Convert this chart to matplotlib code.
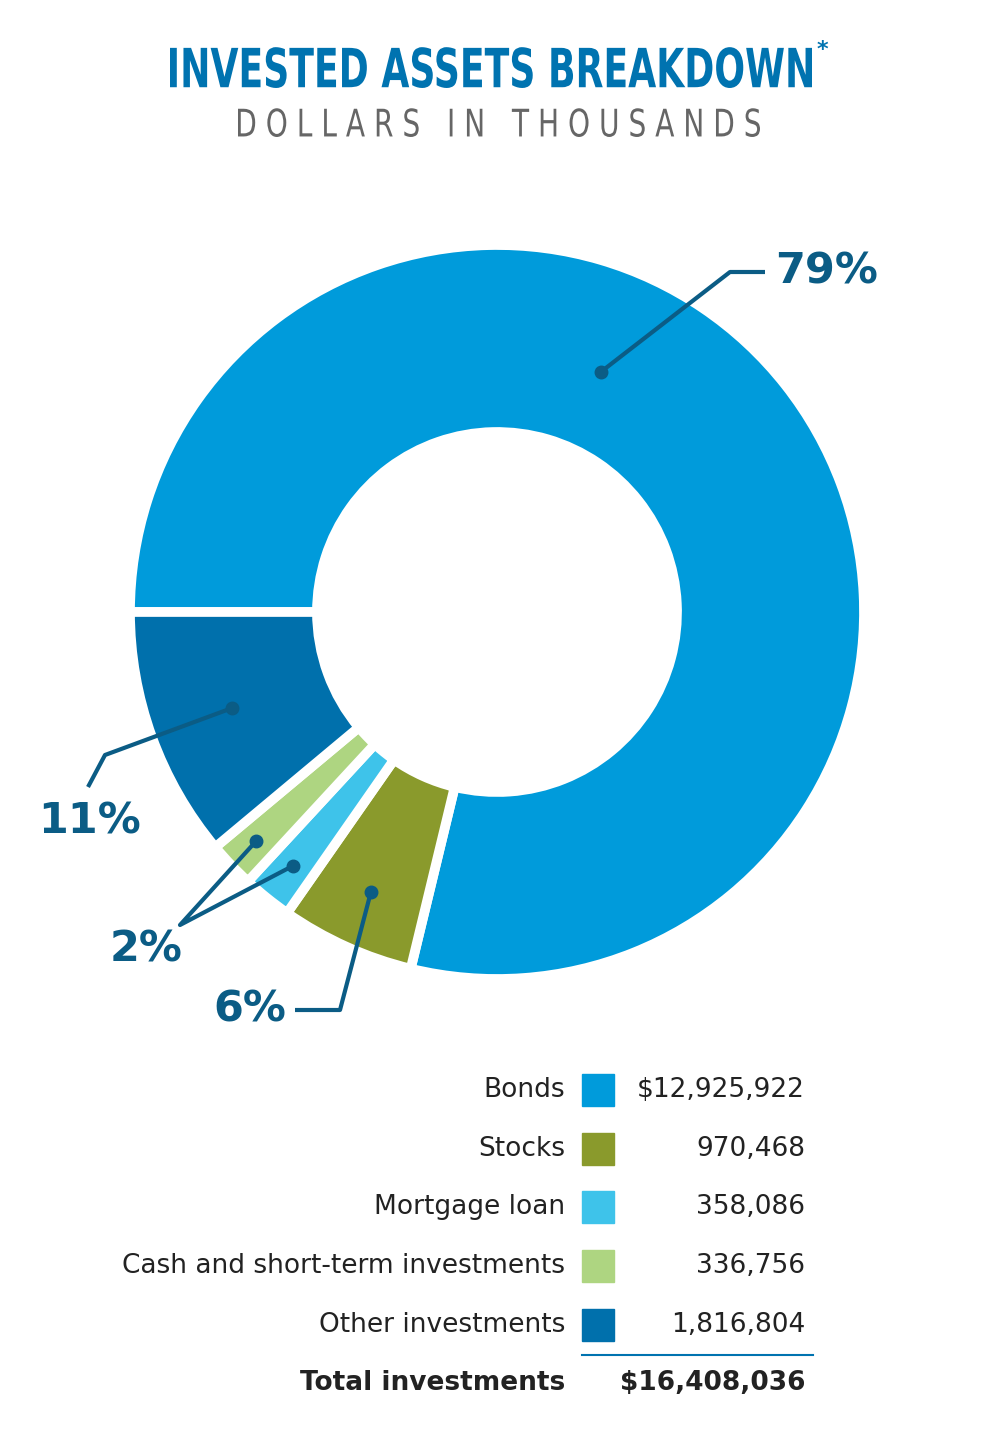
import numpy as np
import matplotlib
matplotlib.use("Agg")
import matplotlib.pyplot as plt
from matplotlib.textpath import TextPath
from matplotlib.patches import PathPatch
from matplotlib.font_manager import FontProperties
from matplotlib.transforms import Affine2D

categories = ["Bonds", "Stocks", "Mortgage loan", "Cash and short-term investments", "Other investments"]
values = [12925922, 970468, 358086, 336756, 1816804]
value_labels = ["$12,925,922", "970,468", "358,086", "336,756", "1,816,804"]
total_label = "$16,408,036"
colors = ["#009BDB", "#8A9A2C", "#3EC3EA", "#AED581", "#0070AC"]
dark = "#0B5C85"

W, H = 994, 1434
fig = plt.figure(figsize=(W / 100, H / 100), dpi=100)
ax = fig.add_axes([0, 0, 1, 1])

cx, cy, R, width = 497, H - 612, 367, 187
wedges, _ = ax.pie(values, colors=colors, startangle=180, counterclock=False,
                   center=(cx, cy), radius=R,
                   wedgeprops=dict(width=width, edgecolor="white", linewidth=7))
ax.set_xlim(0, W)
ax.set_ylim(0, H)
ax.set_aspect("equal")
ax.axis("off")


def point_on(w, frac, rad):
    a = np.deg2rad(w.theta1 + (w.theta2 - w.theta1) * frac)
    return cx + rad * np.cos(a), cy + rad * np.sin(a)


def leader(pts, dot):
    xs, ys = zip(*pts)
    ax.plot(xs, ys, color=dark, lw=3, solid_capstyle="butt")
    ax.plot(*dot, "o", color=dark, ms=9)


pct = [round(v / sum(values) * 100) for v in values]
big = dict(color=dark, fontsize=31, fontweight="bold", va="center", ha="center")

# Bonds
d = point_on(wedges[0], 0.6, 262)
leader([d, (730, H - 272), (765, H - 272)], d)
ax.text(827, H - 272, f"{pct[0]}%", **big)
# Other
d = point_on(wedges[4], 0.5, 282)
leader([d, (105, H - 755), (88, H - 787)], d)
ax.text(90, H - 822, f"{pct[4]}%", **big)
# Cash + mortgage
d1 = point_on(wedges[3], 0.5, 332)
d2 = point_on(wedges[2], 0.5, 326)
leader([d1, (180, H - 925), d2], d1)
ax.plot(*d2, "o", color=dark, ms=9)
ax.text(146, H - 950, f"{pct[2]}%", **big)
# Stocks
d = point_on(wedges[1], 0.5, 307)
leader([d, (340, H - 1010), (295, H - 1010)], d)
ax.text(250, H - 1010, f"{pct[1]}%", **big)

# Title, drawn as a horizontally condensed text path
tp = TextPath((0, 0), "INVESTED ASSETS BREAKDOWN", size=54,
              prop=FontProperties(family="DejaVu Sans", weight="bold"))
bb = tp.get_extents()
sx = 642 / bb.width
tr = Affine2D().translate(-bb.x0, -bb.y0).scale(sx, 1).translate(170, H - 88)
ax.add_patch(PathPatch(tr.transform_path(tp), color="#0073B0", lw=0))
ax.text(822, H - 50, "*", color="#0073B0", fontsize=16, fontweight="bold", ha="center", va="center")

tp2 = TextPath((0, 0), "D O L L A R S   I N   T H O U S A N D S", size=38,
               prop=FontProperties(family="DejaVu Sans"))
bb2 = tp2.get_extents()
tr2 = Affine2D().translate(-bb2.x0, -bb2.y0).scale(522 / bb2.width, 1).translate(238, H - 137)
ax.add_patch(PathPatch(tr2.transform_path(tp2), color="#666666", lw=0))

# Legend table
for i, (c, v, col) in enumerate(zip(categories, value_labels, colors)):
    y = H - (1090 + i * 58.7)
    ax.text(565, y, c, fontsize=19, color="#222222", ha="right", va="center")
    ax.add_patch(plt.Rectangle((582, y - 16), 32, 32, color=col))
    ax.text(805, y, v, fontsize=19, color="#222222", ha="right", va="center")
ax.plot([582, 813], [H - 1355, H - 1355], color="#0073B0", lw=1.5)
ax.text(565, H - 1383, "Total investments", fontsize=19, fontweight="bold", color="#222222", ha="right", va="center")
ax.text(805, H - 1383, total_label, fontsize=19, fontweight="bold", color="#222222", ha="right", va="center")

fig.savefig("out.png", dpi=100)
